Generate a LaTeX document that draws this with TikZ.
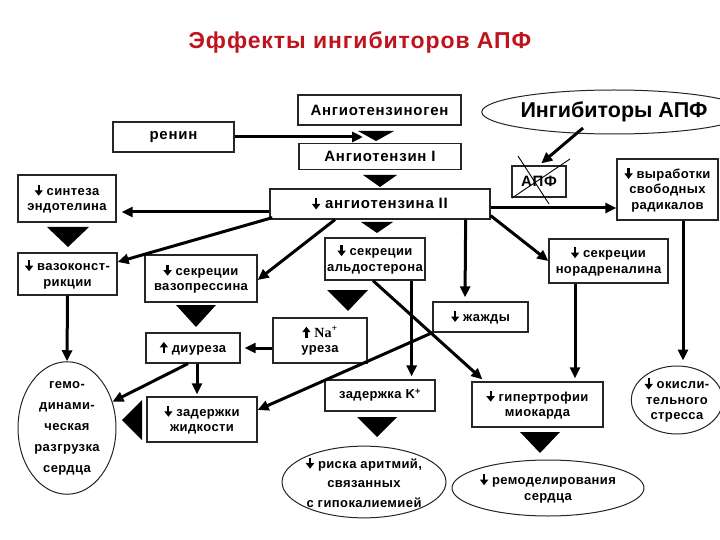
\documentclass[tikz,border=0pt]{standalone}
\usepackage{fontspec}
\usepackage{graphicx}
\setmainfont{Liberation Sans}
\newfontfamily\boxfam{Liberation Sans}[LetterSpace=3.0]
\newfontfamily\chainfam{Liberation Sans}[LetterSpace=5.0]
\newfontfamily\titlefam{Liberation Sans}[LetterSpace=4.0]
\newfontfamily\serifb{Liberation Serif}
\usetikzlibrary{arrows.meta,shapes.geometric,calc}
\definecolor{titlered}{RGB}{190,20,30}
\newcommand\boxfont{\boxfam\bfseries\fontsize{13}{15.5}\selectfont}
\newcommand\chainfont{\chainfam\bfseries\fontsize{15}{17}\selectfont}
\newcommand\titlefont{\titlefam\bfseries\fontsize{23}{26}\selectfont}
\newcommand\inhfont{\bfseries\fontsize{21.5}{24}\selectfont}
\newcommand\dn{\tikz[x=1pt,y=1pt,baseline=0pt]{\draw[line width=2.2pt,-{Triangle[length=5.5pt,width=8pt]}] (0,10.5) -- (0,-0.5);}}
\newcommand\up{\tikz[x=1pt,y=1pt,baseline=0pt]{\draw[line width=2.2pt,-{Triangle[length=5.5pt,width=8pt]}] (0,-0.5) -- (0,10.5);}}
\begin{document}
\begin{tikzpicture}[x=1pt,y=-1pt,
  bx/.style n args={2}{draw=black!85,line width=1.3pt,fill=white,inner sep=0pt,align=center,minimum width=#1pt,minimum height=#2pt,font=\boxfont},
  el/.style n args={2}{ellipse,draw=black!85,line width=1pt,inner sep=0pt,align=center,minimum width=#1pt,minimum height=#2pt,font=\boxfont},
  arr/.style={line width=3pt,-{Triangle[length=11pt,width=10pt]}},
  tri/.style={fill=black}]
\useasboundingbox (0,0) rectangle (720,540);
\fill[white] (0,0) rectangle (720,540);
% title
\node[font=\titlefont,text=titlered] (title) at (360,42) {Эффекты ингибиторов АПФ};
% boxes
\node[bx={163}{30},font=\chainfont] (agen) at (379.5,110) {Ангиотензиноген};
\node[bx={121}{30},font=\chainfont] (renin) at (173.5,137) {ренин};
\node[bx={162}{26},font=\chainfont] (ang1) at (380,156.5) {Ангиотензин I};
\node[bx={220}{30},font=\chainfont] (ang2) at (380,204) {\dn\ ангиотензина II};
\node[ellipse,draw=black!85,line width=1pt,inner sep=0pt,minimum width=212pt,minimum height=44pt,font=\inhfont] (inhib) at (614,112) {Ингибиторы АПФ};
\node[bx={54}{31},font=\chainfont] (ace) at (539,181.5) {АПФ};
\node[bx={101}{61}] (rad) at (667.5,189.5) {\dn\ выработки\\свободных\\радикалов};
\node[bx={98}{47}] (endo) at (67,198.5) {\dn\ синтеза\\эндотелина};
\node[bx={99}{42}] (vasoc) at (67.5,274) {\dn\ вазоконст-\\рикции};
\node[bx={112}{47}] (vasop) at (201,278.5) {\dn\ секреции\\вазопрессина};
\node[bx={100}{42}] (aldo) at (375,259) {\dn\ секреции\\альдостерона};
\node[bx={119}{44}] (nor) at (608.5,261) {\dn\ секреции\\норадреналина};
\node[bx={95}{30}] (thirst) at (480.5,317) {\dn\ жажды};
\node[bx={94}{45}] (na) at (320,340.5) {\up\ {\serifb\bfseries\fontsize{14}{15.5}\selectfont Na\textsuperscript{+}}\\уреза};
\node[bx={94}{30}] (diur) at (193,348) {\up\ диуреза};
\node[bx={110}{45}] (fluid) at (202,419.5) {\dn\ задержки\\жидкости};
\node[bx={110}{31}] (kret) at (380,395.5) {задержка K\textsuperscript{+}};
\node[bx={131}{45}] (hyper) at (537.5,404.5) {\dn\ гипертрофии\\миокарда};
% ellipses
\node[el={98}{130},font=\boxfam\bfseries\fontsize{13}{21}\selectfont] (hemo) at (67,428) {гемо-\\динами-\\ческая\\разгрузка\\сердца};
\node[el={84}{68}] (oxid) at (677,400) {\dn\ окисли-\\тельного\\стресса};
\node[el={146}{70},font=\boxfam\bfseries\fontsize{13}{19.5}\selectfont] (arrh) at (364,482) {\dn\ риска аритмий,\\связанных\\с гипокалиемией};
\node[el={154}{56}] (remod) at (548,488) {\dn\ ремоделирования\\сердца};
% crossed ACE
\draw[line width=0.9pt] (518,156) -- (549,204);
\draw[line width=0.9pt] (512,198) -- (570,159);
% flow triangles
\fill[tri] (358,131) -- (394,131) -- (376,141) -- cycle;
\fill[tri] (363,175) -- (397,175) -- (380,187) -- cycle;
\fill[tri] (361,222) -- (393,222) -- (377,233) -- cycle;
\fill[tri] (47,227) -- (89,227) -- (68,247) -- cycle;
\fill[tri] (176,305) -- (216,305) -- (196,327) -- cycle;
\fill[tri] (327,290) -- (368,290) -- (348,311) -- cycle;
\fill[tri] (357,417) -- (397,417) -- (377,437) -- cycle;
\fill[tri] (520,432) -- (560,432) -- (540,453) -- cycle;
\fill[tri] (142,400) -- (142,440) -- (122,420) -- cycle;
% arrows
\coordinate (t1l) at (363,137);
\draw[arr] (renin.east) -- (t1l);
\draw[arr,shorten >=3pt] ([xshift=-31pt,yshift=-16pt]inhib.center) -- (ace.north);
\draw[arr,shorten >=5pt] ([yshift=-8pt]ang2.west) -- ([yshift=-13.5pt]endo.east);
\draw[arr] ([xshift=3pt,yshift=2pt]ang2.south west) -- ([yshift=12pt]vasoc.east);
\draw[arr] ([xshift=-45pt]ang2.south) -- ([yshift=-1.5pt]vasop.east);
\draw[arr,shorten >=4pt] ([xshift=-25pt]ang2.south east) -- ([xshift=-15.5pt]thirst.north);
\draw[arr] ([yshift=4pt]ang2.south east) -- (nor.west);
\draw[arr] ([yshift=-4pt]ang2.east) -- ([yshift=-18.5pt]rad.west);
\draw[arr,shorten >=5pt] ([xshift=15.5pt]rad.south) -- ([xshift=15.5pt]rad.south |- oxid.north);
\draw[arr] (vasoc.south) -- (hemo.north);
\draw[arr] ([xshift=-2pt]aldo.south) -- ([xshift=11pt,yshift=2pt]hyper.north west);
\draw[arr,shorten >=3pt] ([xshift=-14pt]aldo.south east) -- ([xshift=-14pt]aldo.south east |- kret.north);
\draw[arr] (thirst.south west) -- ([yshift=9.5pt]fluid.east);
\draw[arr,shorten >=4pt] ([yshift=-7.5pt]na.west) -- (diur.east);
\draw[arr,shorten >=2pt] ([xshift=4pt]diur.south) -- ([xshift=-5pt]fluid.north);
\draw[arr] ([xshift=-5pt]diur.south) -- (hemo.30);
\draw[arr,shorten >=3pt] ([xshift=-33.5pt]nor.south) -- ([xshift=-33.5pt]nor.south |- hyper.north);
\end{tikzpicture}
\end{document}
